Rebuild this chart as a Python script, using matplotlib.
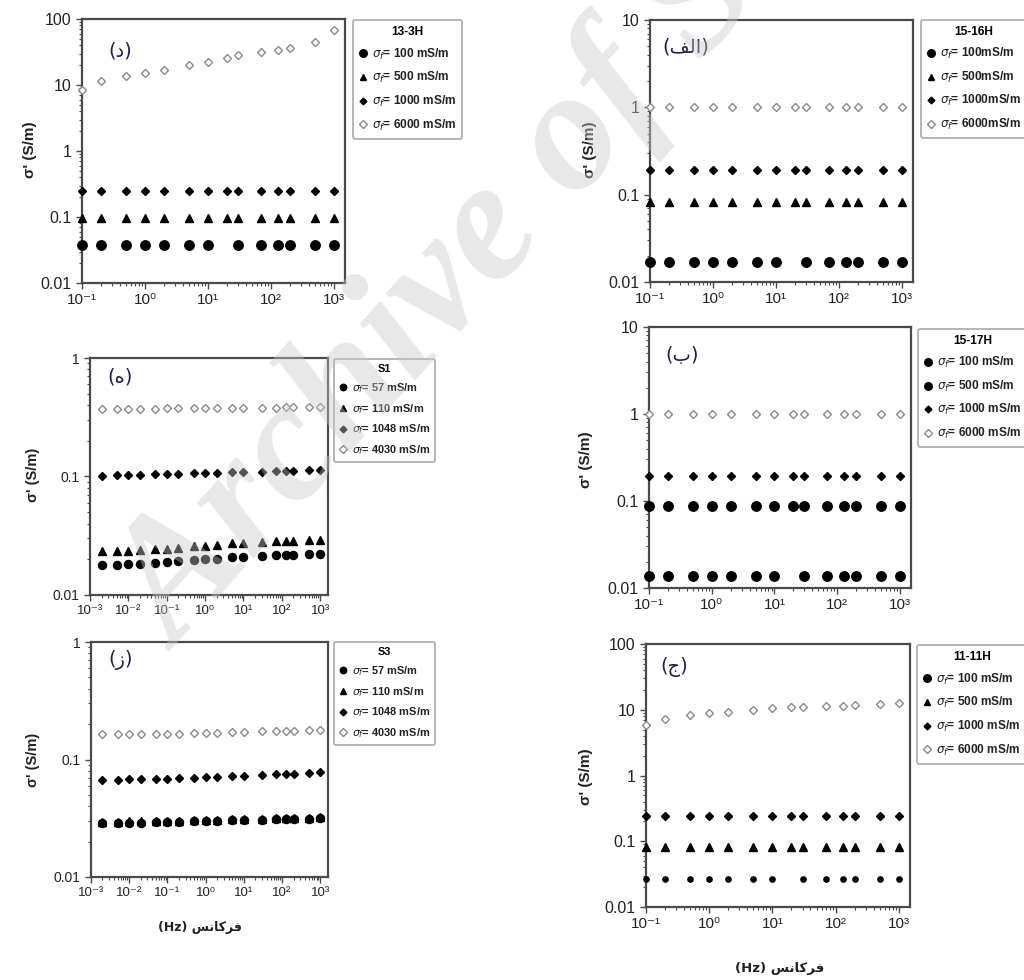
import numpy as np
import matplotlib
matplotlib.use("Agg")
import matplotlib.pyplot as plt
from matplotlib.lines import Line2D
from matplotlib.ticker import LogLocator, FixedLocator, FixedFormatter, NullFormatter

plt.rcParams['font.family'] = ['Liberation Sans', 'DejaVu Sans']
plt.rcParams['mathtext.fontset'] = 'dejavusans'

nan = np.nan

# ---------------- data ----------------
freq_h = [0.1, 0.2, 0.5, 1, 2, 5, 10, 20, 30, 70, 130, 200, 500, 1000]
freq_s = [0.002, 0.005, 0.01, 0.02, 0.05, 0.1, 0.2, 0.5, 1, 2, 5, 10, 30, 70, 130, 200, 500, 1000]

# 13-3H  (د)
h13_100 = [0.037, 0.037, 0.037, 0.037, 0.037, 0.037, 0.037, nan, 0.037, 0.037, 0.037, 0.037, 0.037, 0.037]
h13_500 = [0.098, 0.098, 0.098, 0.098, 0.098, 0.098, 0.098, 0.098, 0.098, 0.098, 0.098, 0.098, 0.098, 0.098]
h13_1000 = [0.25, 0.25, 0.25, 0.25, 0.25, 0.25, 0.25, 0.25, 0.25, 0.25, 0.25, 0.25, 0.25, 0.25]
h13_6000 = [8.3, 11.6, 13.7, 15.2, 16.9, 19.9, 22.6, 25.9, 28.1, 31.6, 34.3, 36.8, 45.4, 68.9]

# 15-16H  (الف)
h1516_100 = [0.017, 0.017, 0.017, 0.017, 0.017, 0.017, 0.017, nan, 0.017, 0.017, 0.017, 0.017, 0.017, 0.017]
h1516_500 = [0.083, 0.083, 0.083, 0.083, 0.083, 0.083, 0.083, 0.083, 0.083, 0.083, 0.083, 0.083, 0.083, 0.083]
h1516_1000 = [0.194, 0.194, 0.194, 0.194, 0.194, 0.194, 0.194, 0.194, 0.194, 0.194, 0.194, 0.194, 0.194, 0.194]
h1516_6000 = [1.0, 1.0, 1.0, 1.0, 1.0, 1.0, 1.0, 1.0, 1.0, 1.0, 1.0, 1.0, 1.0, 1.0]

# 15-17H  (ب)
h1517_100 = [0.0137, 0.0137, 0.0137, 0.0137, 0.0137, 0.0137, 0.0137, nan, 0.0137, 0.0137, 0.0137, 0.0137, 0.0137, 0.0137]
h1517_500 = [0.088, 0.088, 0.088, 0.088, 0.088, 0.088, 0.088, 0.088, 0.088, 0.088, 0.088, 0.088, 0.088, 0.088]
h1517_1000 = [0.194, 0.194, 0.194, 0.194, 0.194, 0.194, 0.194, 0.194, 0.194, 0.194, 0.194, 0.194, 0.194, 0.194]
h1517_6000 = [1.0, 1.0, 1.0, 1.0, 1.0, 1.0, 1.0, 1.0, 1.0, 1.0, 1.0, 1.0, 1.0, 1.0]

# 11-11H  (ج)
h1111_100 = [0.027, 0.027, 0.027, 0.027, 0.027, 0.027, 0.027, nan, 0.027, 0.027, 0.027, 0.027, 0.027, 0.027]
h1111_500 = [0.081, 0.081, 0.081, 0.081, 0.081, 0.081, 0.081, 0.081, 0.081, 0.081, 0.081, 0.081, 0.081, 0.081]
h1111_1000 = [0.246, 0.246, 0.246, 0.246, 0.246, 0.246, 0.246, 0.246, 0.246, 0.246, 0.246, 0.246, 0.246, 0.246]
h1111_6000 = [5.77, 7.3, 8.3, 8.8, 9.4, 10.0, 10.5, 11.0, 11.1, 11.4, 11.6, 11.9, 12.3, 12.6]

# S1  (ه)
s1_57 = [0.01793, 0.01805, 0.01817, 0.01828, 0.01864, 0.01888, 0.01925, 0.01976, 0.02002,
         0.02028, 0.02081, 0.02108, 0.02150, 0.02178, 0.02192, 0.02192, 0.02206, 0.02221]
s1_110 = [0.02354, 0.02354, 0.02370, 0.02401, 0.02432, 0.02464, 0.02512, 0.02578, 0.02612,
          0.02664, 0.02733, 0.02769, 0.02823, 0.02860, 0.02879, 0.02879, 0.02916, 0.02916]
s1_1048 = [0.1006, 0.1026, 0.1026, 0.1033, 0.1046, 0.1053, 0.1060, 0.1067, 0.1074,
           0.1074, 0.1081, 0.1088, 0.1102, 0.1109, 0.1117, 0.1117, 0.1124, 0.1124]
s1_4030 = [0.371, 0.372, 0.372, 0.373, 0.374, 0.375, 0.375, 0.377, 0.378,
           0.378, 0.379, 0.380, 0.381, 0.382, 0.383, 0.383, 0.384, 0.385]

# S3  (ز)
s3_57 = [0.0289, 0.0289, 0.0290, 0.0290, 0.0292, 0.0293, 0.0294, 0.0297, 0.0298,
         0.0300, 0.0303, 0.0304, 0.0307, 0.0310, 0.0311, 0.0311, 0.0313, 0.0316]
s3_110 = [0.0296, 0.0296, 0.0297, 0.0297, 0.0299, 0.0300, 0.0301, 0.0304, 0.0305,
          0.0307, 0.0310, 0.0311, 0.0314, 0.0317, 0.0318, 0.0318, 0.0320, 0.0323]
s3_1048 = [0.0673, 0.0673, 0.0678, 0.0678, 0.0682, 0.0687, 0.0691, 0.0700, 0.0705,
           0.0714, 0.0724, 0.0729, 0.0738, 0.0748, 0.0753, 0.0753, 0.0763, 0.0778]
s3_4030 = [0.1637, 0.1648, 0.1648, 0.1648, 0.1659, 0.1659, 0.1659, 0.1680, 0.1680,
           0.1692, 0.1714, 0.1714, 0.1736, 0.1748, 0.1759, 0.1759, 0.1771, 0.1794]

labels_h = ["100 mS/m", "500 mS/m", "1000 mS/m", "6000 mS/m"]
labels_h_nospace = ["100mS/m", "500mS/m", "1000mS/m", "6000mS/m"]
labels_s = ["57 mS/m", "110 mS/m", "1048 mS/m", "4030 mS/m"]

# x tick labels (decades)
xt_h = [0.1, 1, 10, 100, 1000]
xtl_h = ["10\u207b\u00b9", "10\u2070", "10\u00b9", "10\u00b2", "10\u00b3"]
xt_s = [0.001, 0.01, 0.1, 1, 10, 100, 1000]
xtl_s = ["10\u207b\u00b3", "10\u207b\u00b2", "10\u207b\u00b9", "10\u2070", "10\u00b9", "10\u00b2", "10\u00b3"]

# Persian labels (presentation forms, visual order)
lab_dal = "(\uFEA9)"
lab_heh = "(\uFEE9)"
lab_zain = "(\uFEAF)"
lab_alef = "(\uFED2\uFEDF\uFE8D)"
lab_beh = "(\uFE8F)"
lab_jeem = "(\uFE9D)"
xlabel_txt = "(Hz) \uFEB2\uFEE7\uFE8E\uFB90\uFEAE\uFED3"

# ---------------- figure ----------------
W, H = 1024, 980
fig = plt.figure(figsize=(W / 100, H / 100), dpi=100)


def rect(l, t, r, b):
    return [l / W, 1 - b / H, (r - l) / W, (b - t) / H]


big_c = dict(marker='o', ms=6.8, mfc='black', mec='black', ls='none')
tri = dict(marker='^', ms=5.5, mfc='black', mec='black', ls='none')
dia = dict(marker='D', ms=4.3, mfc='black', mec='black', ls='none')
odia = dict(marker='D', ms=4.5, mfc='white', mec='#8a8a8a', mew=1.0, ls='none')
small_c = dict(marker='o', ms=3.8, mfc='black', mec='black', ls='none')
mid_c = dict(marker='o', ms=5.8, mfc='black', mec='black', ls='none')

panels = [
    dict(rect=(82, 19, 345, 283), x=freq_h, ys=[h13_100, h13_500, h13_1000, h13_6000],
         st=[big_c, tri, dia, odia], leg=[big_c, tri, dia, odia], labs=labels_h, title="13-3H",
         ylim=(0.01, 100), xlim=(0.1, 1500), xt=xt_h, xtl=xtl_h, lab=lab_dal, labpos=(120, 51),
         legbox=(353, 20), legfs=8.6, legspace=0.72, ylab=(30, 150), fs=11.5, xfs=11, ylfs=11),
    dict(rect=(650, 20, 913, 282), x=freq_h, ys=[h1516_100, h1516_500, h1516_1000, h1516_6000],
         st=[big_c, tri, dia, odia], leg=[big_c, tri, dia, odia], labs=labels_h_nospace, title="15-16H",
         ylim=(0.01, 10), xlim=(0.1, 1500), xt=xt_h, xtl=xtl_h, lab=lab_alef, labpos=(686, 47),
         legbox=(921, 20), legfs=8.6, legspace=0.7, ylab=(590, 150), fs=11.5, xfs=11, ylfs=11),
    dict(rect=(90, 358, 328, 595), x=freq_s, ys=[s1_57, s1_110, s1_1048, s1_4030],
         st=[mid_c, tri, dia, odia], leg=[mid_c, tri, dia, odia], labs=labels_s, title="S1",
         ylim=(0.01, 1), xlim=(1e-3, 1600), xt=xt_s, xtl=xtl_s, lab=lab_heh, labpos=(120, 377),
         legbox=(334, 359), legfs=7.9, legspace=0.62, ylab=(33, 475), fs=10, xfs=9.5, ylfs=10.5),
    dict(rect=(649, 327, 911, 588), x=freq_h, ys=[h1517_100, h1517_500, h1517_1000, h1517_6000],
         st=[big_c, big_c, dia, odia], leg=[big_c, big_c, dia, odia], labs=labels_h, title="15-17H",
         ylim=(0.01, 10), xlim=(0.1, 1500), xt=xt_h, xtl=xtl_h, lab=lab_beh, labpos=(682, 355),
         legbox=(918, 329), legfs=8.6, legspace=0.7, ylab=(586, 460), fs=11.5, xfs=11, ylfs=11),
    dict(rect=(91, 642, 328, 877), x=freq_s, ys=[s3_57, s3_110, s3_1048, s3_4030],
         st=[mid_c, tri, dia, odia], leg=[mid_c, tri, dia, odia], labs=labels_s, title="S3",
         ylim=(0.01, 1), xlim=(1e-3, 1600), xt=xt_s, xtl=xtl_s, lab=lab_zain, labpos=(121, 660),
         legbox=(334, 642), legfs=7.9, legspace=0.62, ylab=(33, 760), fs=10, xfs=9.5, ylfs=10.5),
    dict(rect=(646, 644, 910, 907), x=freq_h, ys=[h1111_100, h1111_500, h1111_1000, h1111_6000],
         st=[small_c, tri, dia, odia], leg=[big_c, tri, dia, odia], labs=labels_h, title="11-11H",
         ylim=(0.01, 100), xlim=(0.1, 1500), xt=xt_h, xtl=xtl_h, lab=lab_jeem, labpos=(674, 667),
         legbox=(917, 645), legfs=8.6, legspace=0.72, ylab=(586, 777), fs=11.5, xfs=11, ylfs=11),
]

spine_c = '#4a4a4a'

for p in panels:
    ax = fig.add_axes(rect(*p['rect']))
    ax.set_xscale('log')
    ax.set_yscale('log')
    for y, st in zip(p['ys'], p['st']):
        ax.plot(p['x'], y, clip_on=False, zorder=3, **st)
    ax.set_xlim(*p['xlim'])
    ax.set_ylim(*p['ylim'])
    for s in ax.spines.values():
        s.set_color(spine_c)
        s.set_linewidth(1.6)
    ax.tick_params(which='both', direction='out', colors=spine_c, labelcolor='#222222',
                   top=False, right=False)
    ax.tick_params(axis='y', labelsize=p['fs'])
    ax.tick_params(axis='x', labelsize=p['xfs'])
    ax.tick_params(which='major', length=4, width=1.0)
    ax.tick_params(which='minor', length=2.5, width=0.8)
    ax.xaxis.set_major_locator(FixedLocator(p['xt']))
    ax.xaxis.set_major_formatter(FixedFormatter(p['xtl']))
    ax.xaxis.set_minor_locator(LogLocator(base=10, subs=np.arange(2, 10), numticks=20))
    ax.xaxis.set_minor_formatter(NullFormatter())
    lo, hi = p['ylim']
    yt = [10.0 ** k for k in range(int(round(np.log10(lo))), int(round(np.log10(hi))) + 1)]
    ylabels = [('%g' % v) for v in yt]
    ax.yaxis.set_major_locator(FixedLocator(yt))
    ax.yaxis.set_major_formatter(FixedFormatter(ylabels))
    ax.yaxis.set_minor_locator(LogLocator(base=10, subs=np.arange(2, 10), numticks=20))
    ax.yaxis.set_minor_formatter(NullFormatter())

    # panel label
    fig.text(p['labpos'][0] / W, 1 - p['labpos'][1] / H, p['lab'], ha='center', va='center',
             fontsize=14, color='#20204a', family=['DejaVu Sans'])
    # y label
    fig.text(p['ylab'][0] / W, 1 - p['ylab'][1] / H, "\u03c3' (S/m)", rotation=90,
             ha='center', va='center', fontsize=p['ylfs'], fontweight='bold', color='#222222')

    # legend
    handles = [Line2D([], [], **st) for st in p['leg']]
    labs = [r"$\sigma_f$= " + t for t in p['labs']]
    lx, ly = p['legbox']
    leg = ax.legend(handles, labs, loc='upper left',
                    bbox_to_anchor=(lx / W, 1 - ly / H), bbox_transform=fig.transFigure,
                    title=p['title'], fontsize=p['legfs'], title_fontsize=p['legfs'],
                    frameon=True, fancybox=True, edgecolor='#b0b0b0', framealpha=1,
                    handlelength=0.6, handletextpad=0.5, labelspacing=p['legspace'],
                    borderpad=0.5, borderaxespad=0, markerscale=0.8)
    leg.get_title().set_fontweight('bold')
    leg.get_frame().set_linewidth(1.3)
    for t in leg.get_texts():
        t.set_fontweight('bold')
        t.set_color('#222222')

# x labels
fig.text(200 / W, 1 - 927 / H, xlabel_txt, ha='center', va='center', fontsize=9,
         fontweight='bold', family=['DejaVu Sans'], color='#222222')
fig.text(780 / W, 1 - 968 / H, xlabel_txt, ha='center', va='center', fontsize=9.5,
         fontweight='bold', family=['DejaVu Sans'], color='#222222')

# watermark
fig.text(178 / W, 1 - 652 / H, "Archive of SID", rotation=48, rotation_mode='anchor',
         ha='left', va='baseline', fontsize=124, family=['Liberation Serif'],
         fontweight='bold', style='italic', color='#c8c8c8', alpha=0.42, zorder=20)

fig.savefig("out.png", dpi=100)
